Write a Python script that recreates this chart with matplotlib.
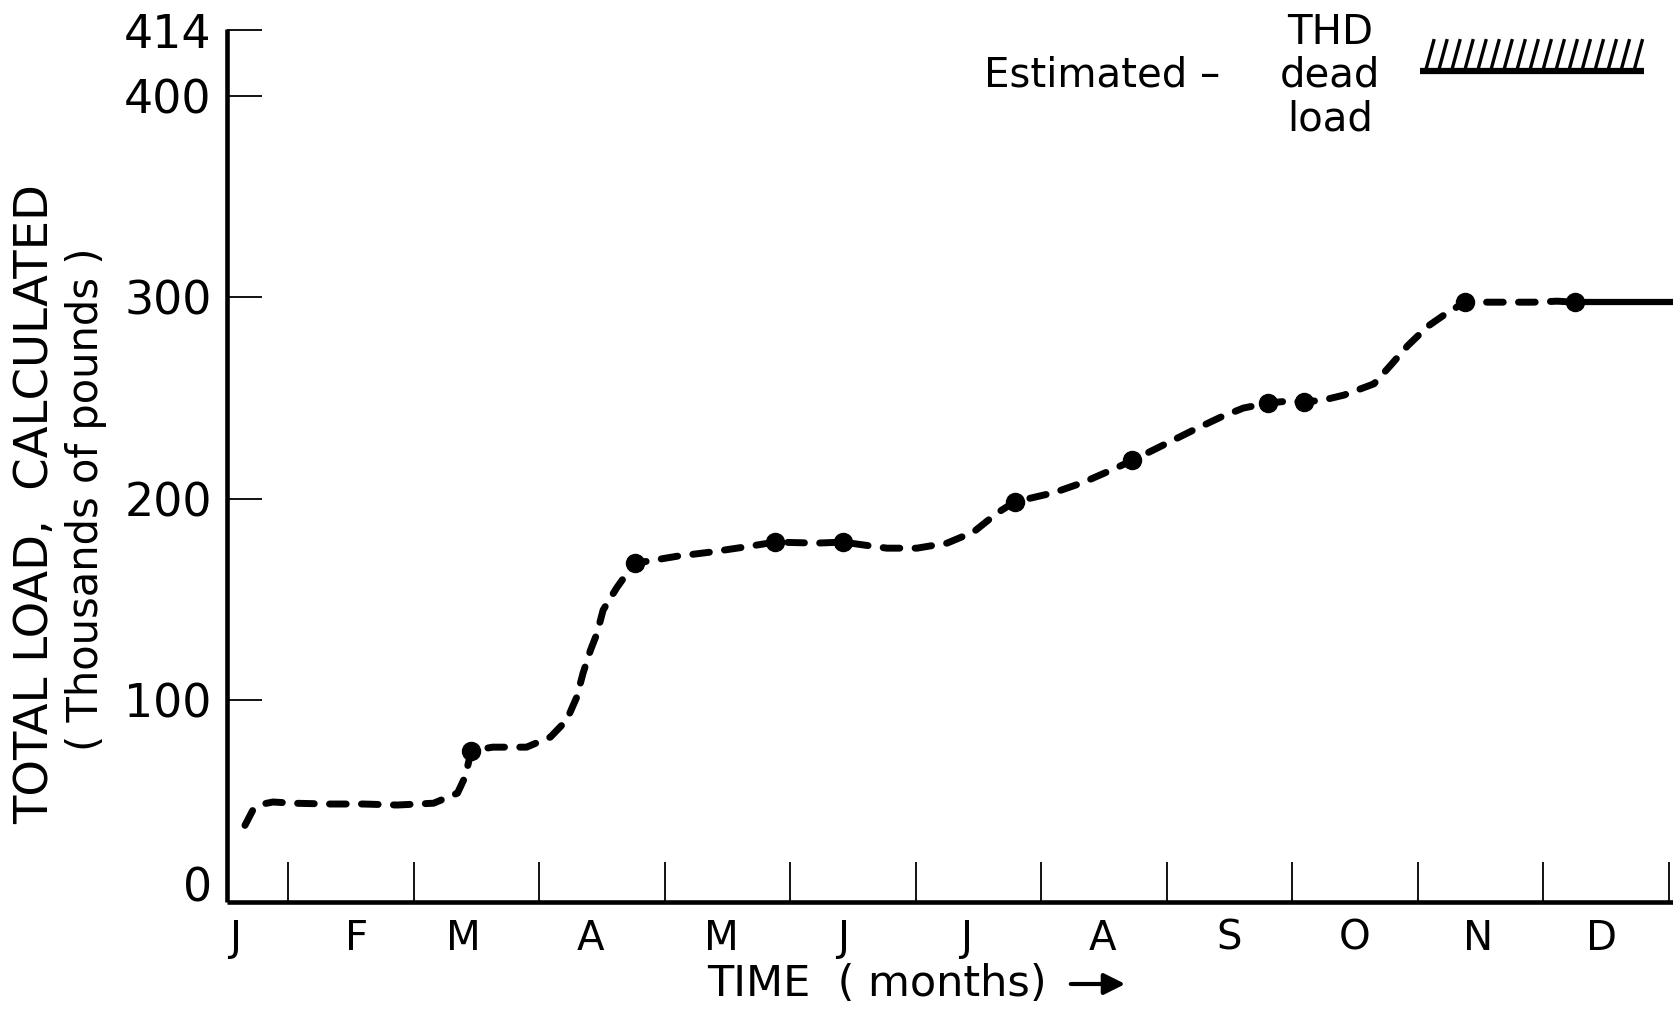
import numpy as np
import matplotlib
matplotlib.use("Agg")
import matplotlib.pyplot as plt

# ---------------- data (months: 0 = 1 Jan; load in thousands of pounds) ----------------
curve_x = [0.657, 0.72, 0.80, 0.88, 1.04, 1.33, 1.60, 1.87, 2.16, 2.35, 2.41, 2.46,
           2.63, 2.90, 3.09, 3.22, 3.30, 3.35, 3.41, 3.46, 3.51, 3.57, 3.62, 3.70, 3.765,
           4.10, 4.36, 4.63, 4.88, 5.21, 5.42, 5.77, 6.01, 6.25, 6.46, 6.65, 6.79,
           7.10, 7.33, 7.55, 7.725, 8.00, 8.21, 8.43, 8.61, 8.81, 8.96, 9.095,
           9.25, 9.41, 9.65, 9.78, 9.92, 10.08, 10.24, 10.375, 10.55, 10.74, 10.92,
           11.11, 11.255]
curve_y = [38, 45.6, 48.6, 49.6, 49, 48.6, 48.6, 48.1, 49, 54, 62, 75,
           76.8, 76.8, 81.8, 90.2, 101.6, 113.5, 125, 133, 144.8, 151, 156, 163, 168,
           171.5, 173.5, 176, 178.5, 178, 178.5, 175.5, 175.5, 178, 183.5, 193, 198.5,
           203, 208, 214, 219, 227.5, 234, 240.5, 245, 247.5, 248.4, 248,
           249, 251.4, 257, 266, 276, 285.6, 292.5, 297.5, 297.5, 297.5, 297.5,
           298, 297.5]

point_x = [2.46, 3.765, 4.88, 5.42, 6.79, 7.725, 8.81, 9.095, 10.375, 11.255]
point_y = [75, 168, 178.5, 178.5, 198.5, 219, 247.5, 248, 297.5, 297.5]

dead_load = 412  # estimated THD dead load (drawn as hatched line)

month_labels = ["J", "F", "M", "A", "M", "J", "J", "A", "S", "O", "N", "D"]
month_label_pos = [0.575, 1.55, 2.40, 3.41, 4.45, 5.42, 6.40, 7.49, 8.50, 9.50, 10.48, 11.46]
month_ticks = [1, 2, 3, 4, 5, 6, 7, 8, 9, 10, 11, 12]

ytick_pos = [9, 100, 200, 300, 400, 432.5]
ytick_labels = ["0", "100", "200", "300", "400", "414"]

legend_lines = ["THD", "dead", "load"]
legend_line_y = [431, 410, 388]

# ---------------- figure ----------------
W, H = 1674, 1015
fig = plt.figure(figsize=(W / 100, H / 100), dpi=100)
plt.rcParams['font.family'] = ['DejaVu Sans']

ax = fig.add_axes([227 / W, 1 - 902 / H, 1 - 227 / W, (902 - 29) / H])
XMIN, XMAX = 0.514, 12.04
ax.set_xlim(XMIN, XMAX)
ax.set_ylim(0, 433)

for s in ("top", "right"):
    ax.spines[s].set_visible(False)
for s in ("left", "bottom"):
    ax.spines[s].set_linewidth(3.3)
    ax.spines[s].set_capstyle("butt")

# curve
ax.plot(curve_x, curve_y, color="black", lw=5, linestyle=(0, (2.4, 2.2)),
        dash_capstyle="round", solid_joinstyle="round", zorder=3)
ax.plot(point_x, point_y, "o", color="black", ms=13, zorder=4)
ax.plot([point_x[-1], XMAX], [point_y[-1], point_y[-1]], color="black", lw=4.5,
        solid_capstyle="butt", zorder=3, clip_on=False)

# ticks
ax.set_xticks(month_ticks)
ax.set_xticklabels([""] * len(month_ticks))
ax.set_xticks(month_label_pos, minor=True)
ax.set_xticklabels(month_labels, minor=True, fontsize=29)
ax.tick_params(axis="x", which="major", direction="in", length=29, width=1.3, pad=12)
ax.tick_params(axis="x", which="minor", length=0, pad=12)

ax.set_yticks(ytick_pos)
ax.set_yticklabels(ytick_labels, fontsize=33)
ax.tick_params(axis="y", which="major", direction="in", length=25, width=1.3, pad=11)
ax.yaxis.get_major_ticks()[0].tick1line.set_visible(False)

# legend: Estimated - THD dead load  ///////
ax.text(6.546, 410, "Estimated \u2013", fontsize=29, ha="left", va="center")
for t, yy in zip(legend_lines, legend_line_y):
    ax.text(9.30, yy, t, fontsize=29, ha="center", va="center")
hx0, hx1 = 10.02, 11.80
ax.plot([hx0, hx1], [dead_load, dead_load], color="black", lw=4.5, solid_capstyle="butt",
        clip_on=False)
n_strokes = 17
for xs in np.linspace(hx0 + 0.04, hx1 - 0.08, n_strokes):
    ax.plot([xs, xs + 0.07], [dead_load, dead_load + 16], color="black", lw=2.4,
            solid_capstyle="butt", clip_on=False)

# axis titles
fig.text(36 / W, 1 - 504 / H, "TOTAL LOAD,  CALCULATED", rotation=90, fontsize=33.5,
         ha="center", va="center")
fig.text(86 / W, 1 - 499 / H, "( Thousands of pounds )", rotation=90, fontsize=30,
         ha="center", va="center")
fig.text(707 / W, 1 - 984 / H, "TIME  ( months)", fontsize=31, ha="left", va="center")
fig.patches.append(matplotlib.patches.FancyArrowPatch(
    (1068 / W, 1 - 984 / H), (1128 / W, 1 - 984 / H), transform=fig.transFigure,
    arrowstyle="-|>", mutation_scale=32, lw=3, color="black"))

fig.savefig("out.png", dpi=100, facecolor="white")
